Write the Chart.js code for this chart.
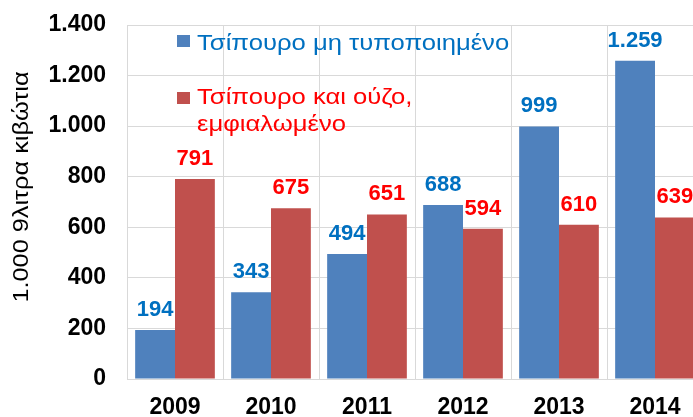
<!DOCTYPE html>
<html>
<head>
<meta charset="utf-8">
<script src="https://cdn.jsdelivr.net/npm/chart.js@4.4.1/dist/chart.umd.min.js"></script>
<style>
  html, body { margin: 0; padding: 0; background: #fff; overflow: hidden; }
  #wrap { width: 710px; height: 417px; }
</style>
</head>
<body>
<div id="wrap"><canvas id="chart"></canvas></div>
<script>
// Datos
const years = ['2009', '2010', '2011', '2012', '2013', '2014'];
const tsipouroBulk = [194, 343, 494, 688, 999, 1259];
const tsipouroOuzoBottled = [791, 675, 651, 594, 610, 639];
const seriesNames = [['Τσίπουρο μη τυποποιημένο'], ['Τσίπουρο και ούζο,', 'εμφιαλωμένο']];
const yTicks = [0, 200, 400, 600, 800, 1000, 1200, 1400];
const yTitle = '1.000 9λιτρα κιβώτια';

const FONT = '"Liberation Sans", Arial, sans-serif';
const barColors = ['#4F81BD', '#C0504D'];
const textColors = ['#0070C0', '#FF0000'];
const STRETCH = 1.165; // el texto normal del original sale ensanchado

function fmt(v) {
    return String(v).replace(/\B(?=(\d{3})+(?!\d))/g, '.');
}

// Etiquetas de valor encima de cada barra
const valueLabels = {
    id: 'valueLabels',
    afterDatasetsDraw(chart) {
        const ctx = chart.ctx;
        ctx.save();
        ctx.font = 'bold 22px ' + FONT;
        ctx.textAlign = 'center';
        ctx.textBaseline = 'alphabetic';
        chart.data.datasets.forEach((ds, i) => {
            ctx.fillStyle = textColors[i];
            chart.getDatasetMeta(i).data.forEach((bar, j) => {
                ctx.fillText(fmt(ds.data[j]), bar.x, bar.y - 14);
            });
        });
        ctx.restore();
    }
};

// Leyenda dentro del área y título del eje Y
const extraText = {
    id: 'extraText',
    afterDraw(chart) {
        const ctx = chart.ctx;
        const area = chart.chartArea;
        ctx.save();
        ctx.font = '22px ' + FONT;
        ctx.textBaseline = 'alphabetic';
        const squares = [area.top + 10, area.top + 67];
        const baselines = [area.top + 25, area.top + 79];
        seriesNames.forEach((lines, i) => {
            ctx.fillStyle = barColors[i];
            ctx.fillRect(area.left + 50, squares[i], 13, 12);
            ctx.fillStyle = textColors[i];
            lines.forEach((line, k) => {
                ctx.save();
                ctx.translate(area.left + 70, baselines[i] + k * 27);
                ctx.scale(STRETCH, 1);
                ctx.fillText(line, 0, 0);
                ctx.restore();
            });
        });

        ctx.fillStyle = '#000';
        ctx.textAlign = 'center';
        ctx.textBaseline = 'middle';
        ctx.translate(22, area.top + 162);
        ctx.rotate(-Math.PI / 2);
        ctx.scale(1.15, 1);
        ctx.fillText(yTitle, 0, 0);
        ctx.restore();
    }
};

new Chart(document.getElementById('chart'), {
    type: 'bar',
    data: {
        labels: years,
        datasets: [
            { label: seriesNames[0].join(' '), data: tsipouroBulk, backgroundColor: barColors[0] },
            { label: seriesNames[1].join(' '), data: tsipouroOuzoBottled, backgroundColor: barColors[1] }
        ]
    },
    options: {
        responsive: true,
        maintainAspectRatio: false,
        animation: false,
        layout: { padding: { top: 25, right: 7, left: 0, bottom: 0 } },
        datasets: { bar: { categoryPercentage: 0.83, barPercentage: 1.0 } },
        plugins: {
            legend: { display: false },
            tooltip: { enabled: false }
        },
        scales: {
            x: {
                grid: { color: '#D9D9D9', drawTicks: false, offset: true },
                border: { color: '#D9D9D9' },
                ticks: { color: '#000', font: { family: FONT, size: 23, weight: 'bold' }, padding: 15 },
                afterFit(scale) { scale.height = 38; }
            },
            y: {
                min: 0,
                max: 1400,
                afterBuildTicks(scale) { scale.ticks = yTicks.map(v => ({ value: v })); },
                grid: { color: '#D9D9D9', drawTicks: false },
                border: { color: '#D9D9D9' },
                ticks: {
                    color: '#000',
                    font: { family: FONT, size: 23, weight: 'bold' },
                    padding: 21,
                    callback: v => fmt(v)
                },
                afterFit(scale) {
                    scale.width = 127;
                    scale.paddingTop = 8;
                    scale.paddingBottom = 8;
                }
            }
        }
    },
    plugins: [valueLabels, extraText]
});
</script>
</body>
</html>
